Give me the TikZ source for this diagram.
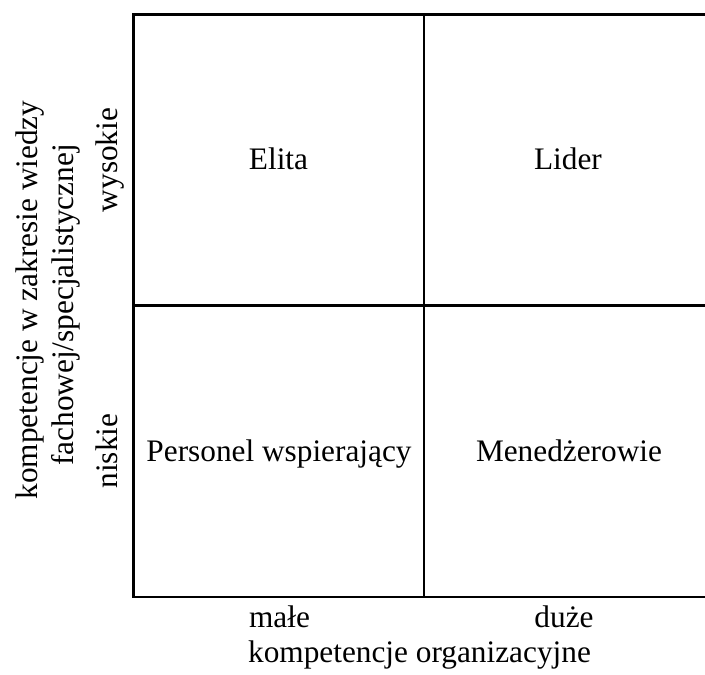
\documentclass[tikz,border=0pt]{standalone}
\usepackage{fontspec}
\setmainfont{Liberation Serif}
\begin{document}
\begin{tikzpicture}[x=1pt,y=1pt,
  lbl/.style={inner sep=0pt,anchor=base,font=\fontsize{31.3}{36}\selectfont},
  vlbl/.style={lbl,rotate=90},
  gridline/.style={line width=2.2pt,line cap=rect}]
\clip (0,0) rectangle (705,675);
\coordinate (tl) at (133.5,660.5);
\coordinate (br) at (714.5,78.3);
\coordinate (mt) at (424,660.5);
\coordinate (mb) at (424,78.3);
\coordinate (ml) at (133.5,369.5);
\coordinate (mr) at (714.5,369.5);
\draw[gridline] (tl) rectangle (br);
\draw[gridline] (mt) -- (mb);
\draw[gridline] (ml) -- (mr);
\node[lbl] (elita) at (278.5,505) {Elita};
\node[lbl] (lider) at (568,505) {Lider};
\node[lbl] (pers) at (279,213) {Personel wspierający};
\node[lbl] (men) at (569,213) {Menedżerowie};
\node[lbl] (male) at (279.5,47) {małe};
\node[lbl] (duze) at (564,47) {duże};
\node[lbl] (korg) at (419.5,12) {kompetencje organizacyjne};
\node[vlbl] (wys) at (117,515) {wysokie};
\node[vlbl] (nis) at (117,224) {niskie};
\node[vlbl] (kw1) at (37,375) {kompetencje w zakresie wiedzy};
\node[vlbl] (kw2) at (73,370) {fachowej/specjalistycznej};
\end{tikzpicture}
\end{document}
